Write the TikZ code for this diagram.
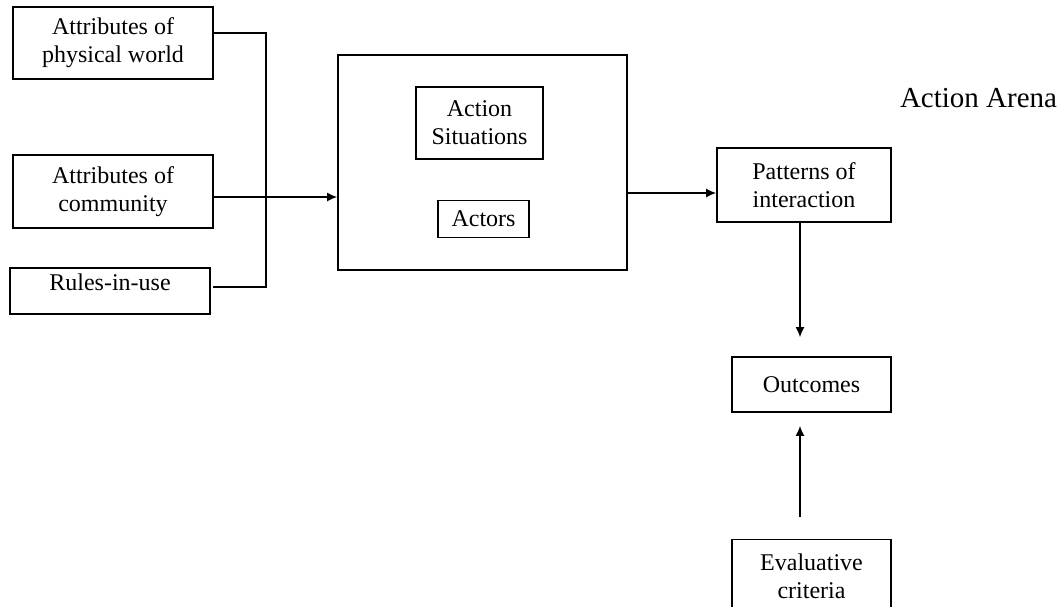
\documentclass[tikz,border=0pt]{standalone}
\usepackage{fontspec}
\setmainfont{Liberation Serif}
\usetikzlibrary{arrows.meta, positioning, calc}

\begin{document}
\begin{tikzpicture}[
        x=0.5pt, y=-0.5pt,
        >={Latex[length=5pt,width=4.5pt]},
        box/.style={rectangle, draw, line width=0.8pt, align=center, inner sep=2pt, font=\fontsize{12}{14}\selectfont},
        line/.style={draw, line width=0.8pt}
    ]
        \useasboundingbox (0,0) rectangle (1063,606);

        % Inputs
        \node [box, minimum width=100pt, minimum height=36pt] (phys_world) at (113,43) {Attributes of\\physical world};
        \node [box, minimum width=100pt, minimum height=36.5pt] (community) at (113,191.5) {Attributes of\\community};
        \node [box, anchor=north, minimum width=100pt, text height=10pt, text depth=10.5pt, inner ysep=1.25pt] (rules) at (110,267) {Rules-in-use};

        % Action arena
        \node [box, minimum width=144.5pt, minimum height=107.5pt] (arena) at (482.5,162.5) {};
        \node [box, minimum width=63.5pt, minimum height=36pt] (situations) at (479.5,123) {Action\\Situations};
        \node [box, minimum width=45.5pt, minimum height=18.5pt, below=20pt of situations, xshift=2pt] (actors) {Actors};
        \node [font=\fontsize{14.5}{16}\selectfont] (arena_label) at (978.5,98) {Action Arena};

        % Results
        \node [box, minimum width=87pt, minimum height=37pt] (patterns) at (804,185) {Patterns of\\interaction};
        \node [box, minimum width=79.5pt, minimum height=27.5pt] (outcomes) at (811.5,384.5) {Outcomes};
        \node [box, minimum width=79.5pt, minimum height=37pt, below=63pt of outcomes] (evaluative) {Evaluative\\criteria};

        \coordinate (bus_top) at (266,33);
        \coordinate (bus_bot) at (266,287);
        \coordinate (flow_x) at (800,0);

        % Paths
        \path [line] (bus_top -| phys_world.east) -- (bus_top) -- (bus_bot) -- ([xshift=1pt]bus_bot -| rules.east);
        \path [line, ->] ([yshift=-2.75pt]community.east) -- ([yshift=-2.75pt]community.east -| arena.west);
        \path [line, ->] ([yshift=-4pt]patterns.west -| arena.east) -- ([yshift=-4pt]patterns.west);
        \path [line, ->, shorten >=9.5pt] (patterns.south -| flow_x) -- (outcomes.north -| flow_x);
        \path [line, ->, shorten <=11pt, shorten >=6.5pt] (evaluative.north -| flow_x) -- (outcomes.south -| flow_x);

    \end{tikzpicture}
\end{document}
